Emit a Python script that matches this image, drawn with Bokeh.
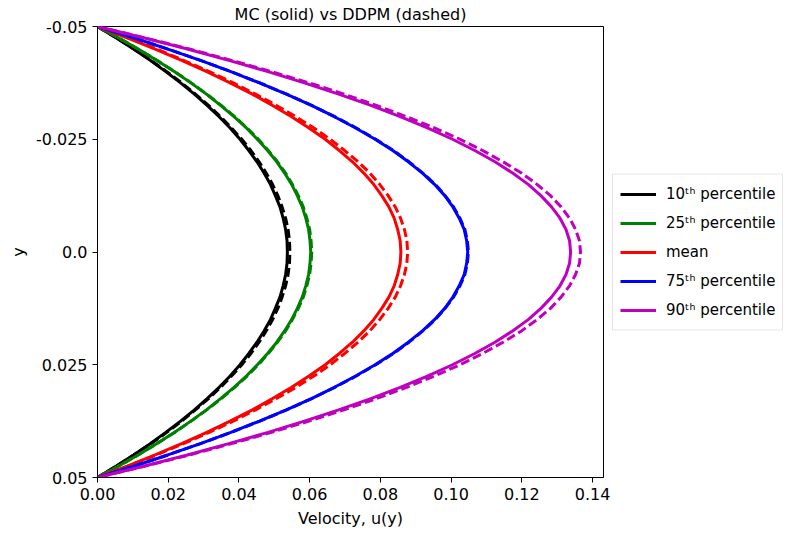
from bokeh.plotting import figure
from bokeh.models import Range1d, FixedTicker, Legend, LegendItem, Title
from bokeh.embed import file_html
from bokeh.resources import INLINE

y_half = [-0.05, -0.0475, -0.045, -0.0425, -0.04, -0.0375, -0.035, -0.0325, -0.03, -0.0275,
          -0.025, -0.0225, -0.02, -0.0175, -0.015, -0.0125, -0.01, -0.0075, -0.005, -0.0025, 0.0]
y_pos = y_half + [-v for v in y_half[-2::-1]]

def sym(half):
    return half + half[-2::-1]

mc_p10 = sym([0, 0.0052, 0.0102, 0.0149, 0.0193, 0.0235, 0.0274, 0.0310, 0.0344, 0.0375, 0.0403,
              0.0428, 0.0451, 0.0471, 0.0489, 0.0503, 0.0516, 0.0525, 0.0532, 0.0536, 0.0537])
dd_p10 = sym([0, 0.0053, 0.0103, 0.0151, 0.0196, 0.0238, 0.0277, 0.0314, 0.0348, 0.0379, 0.0408,
              0.0434, 0.0457, 0.0477, 0.0495, 0.0510, 0.0522, 0.0532, 0.0539, 0.0543, 0.0544])
mc_p25 = sym([0, 0.0059, 0.0115, 0.0167, 0.0217, 0.0264, 0.0308, 0.0348, 0.0386, 0.0421, 0.0452,
              0.0481, 0.0507, 0.0529, 0.0549, 0.0565, 0.0579, 0.0589, 0.0597, 0.0601, 0.0603])
dd_p25 = sym([0, 0.0059, 0.0115, 0.0168, 0.0218, 0.0265, 0.0309, 0.0350, 0.0388, 0.0423, 0.0455,
              0.0483, 0.0509, 0.0532, 0.0551, 0.0568, 0.0582, 0.0592, 0.0600, 0.0604, 0.0606])
mc_mean = sym([0, 0.0084, 0.0163, 0.0238, 0.0309, 0.0375, 0.0438, 0.0495, 0.0549, 0.0598, 0.0644,
               0.0684, 0.0721, 0.0753, 0.0781, 0.0804, 0.0824, 0.0839, 0.0849, 0.0856, 0.0858])
dd_mean = sym([0, 0.0086, 0.0167, 0.0243, 0.0316, 0.0384, 0.0447, 0.0506, 0.0561, 0.0612, 0.0658,
               0.0699, 0.0737, 0.0770, 0.0798, 0.0822, 0.0842, 0.0857, 0.0868, 0.0875, 0.0877])
mc_p75 = sym([0, 0.0102, 0.0199, 0.0291, 0.0377, 0.0458, 0.0534, 0.0605, 0.0670, 0.0730, 0.0785,
              0.0835, 0.0879, 0.0919, 0.0953, 0.0982, 0.1005, 0.1023, 0.1037, 0.1044, 0.1047])
dd_p75 = sym([0, 0.0102, 0.0199, 0.0291, 0.0378, 0.0459, 0.0535, 0.0606, 0.0671, 0.0732, 0.0787,
              0.0837, 0.0881, 0.0920, 0.0955, 0.0983, 0.1007, 0.1025, 0.1039, 0.1046, 0.1049])
mc_p90 = sym([0, 0.0130, 0.0254, 0.0371, 0.0482, 0.0585, 0.0682, 0.0773, 0.0856, 0.0933, 0.1004,
              0.1067, 0.1124, 0.1174, 0.1218, 0.1254, 0.1284, 0.1308, 0.1325, 0.1335, 0.1338])
dd_p90 = sym([0, 0.0133, 0.0260, 0.0379, 0.0492, 0.0598, 0.0697, 0.0789, 0.0874, 0.0953, 0.1025,
              0.1089, 0.1147, 0.1199, 0.1243, 0.1281, 0.1311, 0.1335, 0.1352, 0.1363, 0.1366])

labels = ["10ᵗʰ percentile", "25ᵗʰ percentile", "mean", "75ᵗʰ percentile", "90ᵗʰ percentile"]
colors = ["#000000", "#008000", "#ff0000", "#0000ff", "#bf00bf"]
mc_series = [mc_p10, mc_p25, mc_mean, mc_p75, mc_p90]
dd_series = [dd_p10, dd_p25, dd_mean, dd_p75, dd_p90]

x_ticks = [0.0, 0.02, 0.04, 0.06, 0.08, 0.10, 0.12, 0.14]
x_tick_labels = ["0.00", "0.02", "0.04", "0.06", "0.08", "0.10", "0.12", "0.14"]
y_ticks = [-0.05, -0.025, 0.0, 0.025, 0.05]
y_tick_labels = ["-0.05", "-0.025", "0.0", "0.025", "0.05"]

FONT = "DejaVu Sans"

p = figure(frame_width=506, frame_height=451, output_backend="svg", toolbar_location=None,
           x_range=Range1d(0, 0.1431), y_range=Range1d(0.05, -0.05),
           min_border_left=97, min_border_right=0, min_border_bottom=40, min_border_top=0)
p.title = Title(text="MC (solid) vs DDPM (dashed)", align="center", text_font=FONT,
                text_font_size="16px", text_font_style="normal", text_color="black",
                offset=0, standoff=5)

items = []
for lab, col, mc, dd in zip(labels, colors, mc_series, dd_series):
    r = p.line(mc, y_pos, line_color=col, line_width=3)
    p.line(dd, y_pos, line_color=col, line_width=3, line_dash="9 4")
    items.append(LegendItem(label=lab, renderers=[r]))

legend = Legend(items=items, location="center_left", label_text_font=FONT,
                label_text_font_size="15px", label_text_color="black",
                glyph_width=36, glyph_height=25,
                label_height=25, spacing=4, padding=7, margin=9,
                border_line_color="#cccccc", border_line_width=1,
                background_fill_alpha=1.0, label_standoff=10)
p.add_layout(legend, "right")

p.xgrid.visible = False
p.ygrid.visible = False
p.outline_line_color = "black"
p.outline_line_width = 1

for ax in (p.xaxis[0], p.yaxis[0]):
    ax.major_label_text_font = FONT
    ax.major_label_text_font_size = "16px"
    ax.axis_label_text_font = FONT
    ax.axis_label_text_font_size = "16px"
    ax.axis_label_text_font_style = "normal"
    ax.axis_label_text_color = "black"
    ax.minor_tick_line_color = None
    ax.major_tick_out = 5
    ax.major_tick_in = 0
    ax.axis_line_color = "black"
    ax.major_tick_line_color = "black"
    ax.major_label_text_color = "black"

p.xaxis[0].ticker = FixedTicker(ticks=x_ticks)
p.xaxis[0].major_label_overrides = dict(zip(x_ticks, x_tick_labels))
p.xaxis[0].axis_label = "Velocity, u(y)"
p.xaxis[0].axis_label_standoff = 6
p.yaxis[0].ticker = FixedTicker(ticks=y_ticks)
p.yaxis[0].major_label_overrides = dict(zip(y_ticks, y_tick_labels))
p.yaxis[0].axis_label = "y"

open("out.html", "w").write(file_html(p, INLINE))
